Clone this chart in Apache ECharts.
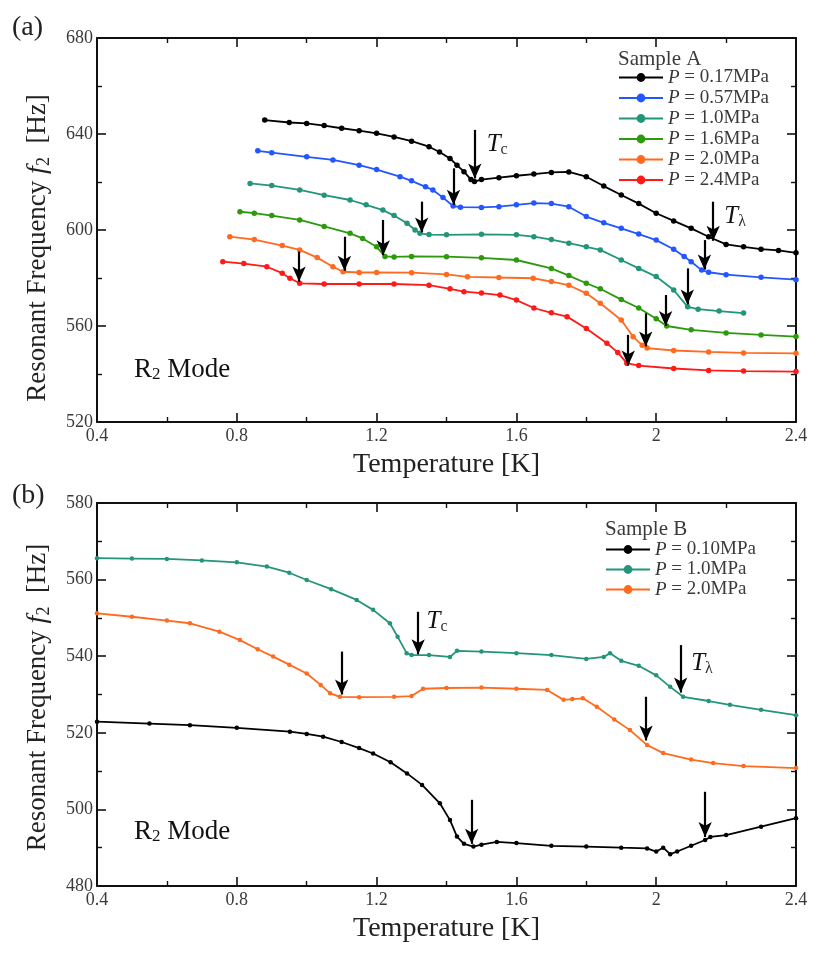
<!DOCTYPE html>
<html><head><meta charset="utf-8">
<script src="https://cdn.jsdelivr.net/npm/echarts@6/dist/echarts.min.js"></script>
<style>html,body{margin:0;padding:0;background:#fff}#c{width:830px;height:957px}</style>
</head><body><div id="c"></div>
<script>
// ---- Panel (a): Sample A, [Temperature K, f2 Hz]
const a017 = [[0.88,645.8],[0.95,644.8],[1.0,644.4],[1.05,643.5],[1.1,642.4],[1.15,641.4],[1.2,640.3],[1.25,638.8],[1.3,637],[1.35,634.7],[1.38,632.5],[1.41,629.8],[1.43,627],[1.45,624.3],[1.47,621],[1.48,620.2],[1.5,621],[1.55,621.8],[1.6,622.6],[1.65,623.3],[1.7,624],[1.75,624.2],[1.8,622.2],[1.85,618.3],[1.9,614.6],[1.95,611],[2.0,607],[2.05,603.8],[2.1,600.7],[2.15,597.2],[2.2,594],[2.25,593],[2.3,592],[2.35,591.5],[2.4,590.5]];
const a057 = [[0.86,633],[0.9,632.2],[1.0,630.5],[1.075,629.2],[1.15,627],[1.2,625.2],[1.267,622.2],[1.3,620.5],[1.34,618],[1.361,616.7],[1.39,613.5],[1.419,610],[1.44,609.5],[1.5,609.4],[1.55,609.7],[1.6,610.5],[1.65,611.2],[1.7,611],[1.75,609.7],[1.8,605.6],[1.85,603],[1.9,600.7],[1.95,598.3],[2.0,595.8],[2.05,592],[2.08,589],[2.1,586.8],[2.13,583.3],[2.15,582.4],[2.2,581.4],[2.3,580.3],[2.4,579.3]];
const a10 = [[0.838,619.4],[0.9,618.5],[0.98,616.7],[1.05,614.5],[1.124,612.5],[1.17,610.5],[1.218,608.3],[1.25,606],[1.287,602.8],[1.31,600],[1.324,598.6],[1.35,598.1],[1.4,598],[1.5,598.2],[1.6,598],[1.65,597.2],[1.7,596],[1.75,594.5],[1.8,593],[1.84,591.7],[1.9,587.5],[1.95,584],[2.0,580.6],[2.05,575],[2.09,568],[2.12,567],[2.18,566.2],[2.25,565.4]];
const a16 = [[0.809,607.6],[0.85,607],[0.9,606],[0.98,604.2],[1.05,601.5],[1.124,598.6],[1.16,596.5],[1.2,593],[1.224,589],[1.25,588.8],[1.3,589],[1.4,588.9],[1.5,588.4],[1.6,587.5],[1.7,584],[1.75,581],[1.8,577.8],[1.84,575.5],[1.9,571],[1.95,567.5],[2.0,563],[2.03,560],[2.1,558.4],[2.2,557.1],[2.3,556.3],[2.4,555.6]];
const a20 = [[0.78,597.2],[0.85,596],[0.93,593.5],[0.98,591.7],[1.03,588.5],[1.075,584.7],[1.104,582.6],[1.15,582.3],[1.2,582.3],[1.3,582.2],[1.4,581.5],[1.46,580.5],[1.55,580.2],[1.648,579.9],[1.7,578.5],[1.75,577],[1.8,573.6],[1.84,569.5],[1.9,562.5],[1.934,555.5],[1.96,552],[1.974,550.8],[2.05,549.8],[2.15,549.2],[2.25,548.8],[2.4,548.6]];
const a24 = [[0.76,586.8],[0.82,586],[0.886,584.7],[0.93,582],[0.952,579.9],[0.98,577.8],[1.05,577.5],[1.15,577.5],[1.25,577.5],[1.35,577],[1.41,575.5],[1.45,574.3],[1.5,573.7],[1.553,572.9],[1.6,570.8],[1.65,567.5],[1.7,565.5],[1.745,563.9],[1.8,559],[1.859,552.8],[1.89,549],[1.916,544.5],[1.95,543.5],[2.05,542.3],[2.15,541.5],[2.25,541.2],[2.4,541]];
// ---- Panel (b): Sample B
const b010 = [[0.4,522.9],[0.55,522.4],[0.666,522],[0.8,521.3],[0.952,520.3],[1.0,519.7],[1.047,519],[1.1,517.6],[1.15,516],[1.19,514.6],[1.24,512.3],[1.287,509.4],[1.33,506.4],[1.381,501.6],[1.41,497.2],[1.43,492.9],[1.45,491],[1.477,490.3],[1.5,490.8],[1.544,491.5],[1.6,491.2],[1.7,490.5],[1.8,490.3],[1.9,490],[1.974,489.8],[2.0,489],[2.02,490],[2.04,488.3],[2.06,489],[2.1,490.5],[2.14,492],[2.155,492.8],[2.2,493.3],[2.3,495.5],[2.4,497.7]];
const b10 = [[0.4,565.6],[0.5,565.5],[0.6,565.4],[0.7,565],[0.8,564.5],[0.886,563.4],[0.95,561.8],[1.0,559.9],[1.07,557.5],[1.143,554.7],[1.19,552.1],[1.238,548.6],[1.26,545.1],[1.286,540.8],[1.3,540.3],[1.35,540.3],[1.41,539.8],[1.43,541.4],[1.5,541.2],[1.6,540.8],[1.7,540.3],[1.8,539.3],[1.85,539.8],[1.868,540.8],[1.9,538.8],[1.95,537.5],[2.0,535],[2.04,532],[2.077,529.4],[2.15,528.3],[2.211,527.3],[2.3,526],[2.4,524.6]];
const b20 = [[0.4,551.2],[0.5,550.3],[0.6,549.3],[0.666,548.6],[0.75,546.4],[0.809,544.2],[0.86,541.8],[0.904,539.9],[0.95,537.8],[1.0,535.5],[1.04,532.5],[1.067,530.3],[1.095,529.4],[1.15,529.3],[1.25,529.4],[1.3,529.6],[1.333,531.5],[1.4,531.7],[1.5,531.8],[1.6,531.5],[1.688,531.2],[1.735,528.6],[1.76,528.8],[1.79,529],[1.83,526.8],[1.88,523.5],[1.925,520.7],[1.974,516.8],[2.02,514.7],[2.1,513],[2.163,512.1],[2.25,511.3],[2.4,510.8]];
// arrows: [T, tail f, tip f]
const arrA = { a017:[[1.481,641.7,621.5],[2.163,611.8,595.5]], a057:[[1.42,625.7,610.5],[2.138,595.8,583.5]], a10:[[1.329,611.8,599],[2.089,584,569]], a16:[[1.219,604.2,589.5],[2.027,572.9,560]], a20:[[1.108,597.2,583],[1.97,565.3,551.5]], a24:[[0.978,591,578.5],[1.92,556.3,543.5]] };
const arrB = { b010:[[1.472,502.5,491],[2.14,504.6,492.8]], b10:[[1.319,551.6,540.5],[2.07,542.9,530.5]], b20:[[1.1,541.2,530],[1.971,529.4,518]] };
const labelsA = [["Tc",1.515,635.5],["Tλ",2.195,605.5]];
const labelsB = [["Tc",1.343,549],["Tλ",2.1,538]];
const pressA = ["0.17","0.57","1.0","1.6","2.0","2.4"];
const pressB = ["0.10","1.0","2.0"];
const xTicks = {min:0.4,max:2.4,step:0.4};

const SERIF = "'Liberation Serif','DejaVu Serif',serif";
const colA = ['#000000','#2356ff','#23957a','#2c9a0c','#ff6a1f','#ff1a1a'];
const colB = ['#000000','#23957a','#ff6a1f'];
const dataA = {a017,a057,a10,a16,a20,a24};
const keysA = ['a017','a057','a10','a16','a20','a24'];
const dataB = {b010,b10,b20};
const keysB = ['b010','b10','b20'];

function xAx(grid, top){
  return {type:'value', gridIndex:grid, min:xTicks.min, max:xTicks.max, interval:xTicks.step, position: top?'top':'bottom',
    axisLine:{show:true,onZero:false,lineStyle:{color:'#111',width:2}},
    axisTick:{show:true,inside:true,length:9,lineStyle:{color:'#111',width:1.6}},
    minorTick:{show:true,splitNumber:2,length:5,lineStyle:{color:'#111',width:1.4}},
    splitLine:{show:false},
    axisLabel:{show:!top,fontFamily:SERIF,fontSize:18,color:'#3a3a3a',margin:5,formatter:v=>String(parseFloat(v.toFixed(1)))},
    name: top?'':'Temperature [K]', nameLocation:'middle', nameGap:29,
    nameTextStyle:{fontFamily:SERIF,fontSize:28,color:'#222'}};
}
function yAx(grid, right, min, max, step, shift){
  return {type:'value', gridIndex:grid, min, max, interval:step, position: right?'right':'left',
    axisLine:{show:true,onZero:false,lineStyle:{color:'#111',width:2}},
    axisTick:{show:true,inside:true,length:9,lineStyle:{color:'#111',width:1.6}},
    minorTick:{show:true,splitNumber:2,length:5,lineStyle:{color:'#111',width:1.4}},
    splitLine:{show:false},
    axisLabel:{show:!right,fontFamily:SERIF,fontSize:18,color:'#3a3a3a',margin:4},
    name: right?'':'{n|Resonant Frequency }{i|f}{s|2}{n|  [Hz]}', nameLocation:'middle', nameGap:44,
    nameTextStyle:{fontFamily:SERIF,fontSize:27,color:'#222',padding:[0,shift||0,0,0],
      rich:{n:{fontFamily:SERIF,fontSize:27,color:'#222'},i:{fontFamily:SERIF,fontSize:28,fontStyle:'italic',color:'#222'},s:{fontFamily:SERIF,fontSize:18,color:'#222',padding:[12,0,0,0]}}}};
}
function mkSeries(keys, data, cols, arrs, pres, xi, yi, labels, prefix, sym){
  return keys.map((k,i)=>{
    const s = {type:'line', name: prefix+'|'+pres[i], xAxisIndex:xi, yAxisIndex:yi, data:data[k],
      symbol:'circle', symbolSize:sym, showSymbol:true, lineStyle:{width:1.8,color:cols[i]}, itemStyle:{color:cols[i]},
      emphasis:{disabled:true}, animation:false, z:3,
      markLine:{silent:true, animation:false, symbol:['none','arrow'], symbolSize:[10,15],
        lineStyle:{color:'#000',width:2.2,type:'solid'}, label:{show:false}, emphasis:{disabled:true},
        data: arrs[k].map(a=>[{coord:[a[0],a[1]]},{coord:[a[0],a[2]]}])}};
    if(i===0){
      s.markPoint = {silent:true, animation:false, symbol:'circle', symbolSize:0,
        data: labels.map(l=>({coord:[l[1],l[2]], value:l[0],
          label:{show:true, position:'right', distance:0,
            formatter: l[0]==='Tc' ? '{t|T}{s|c}' : '{t|T}{s|λ}',
            rich:{t:{fontFamily:SERIF,fontSize:25,fontStyle:'italic',color:'#111'},s:{fontFamily:SERIF,fontSize:16,color:'#333',padding:[10,0,0,0]}}}}))};
    }
    return s;
  });
}
const richLeg = {i:{fontFamily:SERIF,fontSize:19,fontStyle:'italic',color:'#333'},n:{fontFamily:SERIF,fontSize:19,color:'#3a3a3a'}};
const legFmt = name => '{i|P}{n| = '+name.split('|')[1]+'MPa}';

const chart = echarts.init(document.getElementById('c'), null, {renderer:'canvas'});
chart.setOption({
  backgroundColor:'#fff', animation:false,
  grid:[{left:97,top:38,width:699,height:384},{left:97,top:503,width:699,height:383}],
  xAxis:[xAx(0,false),xAx(0,true),xAx(1,false),xAx(1,true)],
  yAxis:[yAx(0,false,520,680,40,36),yAx(0,true,520,680,40),yAx(1,false,480,580,20,6),yAx(1,true,480,580,20)],
  title:[
    {text:'(a)',left:12,top:14,padding:0,textStyle:{fontFamily:SERIF,fontSize:28,fontWeight:'normal',color:'#222'}},
    {text:'(b)',left:12,top:482,padding:0,textStyle:{fontFamily:SERIF,fontSize:28,fontWeight:'normal',color:'#222'}},
    {text:'Sample A',left:618,top:49,padding:0,textStyle:{fontFamily:SERIF,fontSize:21,fontWeight:'normal',color:'#3a3a3a'}},
    {text:'Sample B',left:605,top:519,padding:0,textStyle:{fontFamily:SERIF,fontSize:21,fontWeight:'normal',color:'#3a3a3a'}}
  ],
  legend:[
    {data:pressA.map(p=>'A|'+p), orient:'vertical', left:618, top:68, padding:0, itemWidth:44, itemHeight:11, itemGap:1.5,
      formatter:legFmt, textStyle:{rich:richLeg}, selectedMode:false},
    {data:pressB.map(p=>'B|'+p), orient:'vertical', left:605, top:540, padding:0, itemWidth:44, itemHeight:11, itemGap:1,
      formatter:legFmt, textStyle:{rich:richLeg}, selectedMode:false}
  ],
  graphic:[
    {type:'text', left:134, top:356, style:{text:'{a|R}{s|2}{a| Mode}', rich:{a:{fontFamily:SERIF,fontSize:27,fill:'#111'},s:{fontFamily:SERIF,fontSize:17,fill:'#111',padding:[11,0,0,0]}}}},
    {type:'text', left:134, top:818, style:{text:'{a|R}{s|2}{a| Mode}', rich:{a:{fontFamily:SERIF,fontSize:27,fill:'#111'},s:{fontFamily:SERIF,fontSize:17,fill:'#111',padding:[11,0,0,0]}}}}
  ],
  series:[
    ...mkSeries(keysA,dataA,colA,arrA,pressA,0,0,labelsA,'A',5.5),
    ...mkSeries(keysB,dataB,colB,arrB,pressB,2,2,labelsB,'B',4.5)
  ]
});
</script></body></html>
